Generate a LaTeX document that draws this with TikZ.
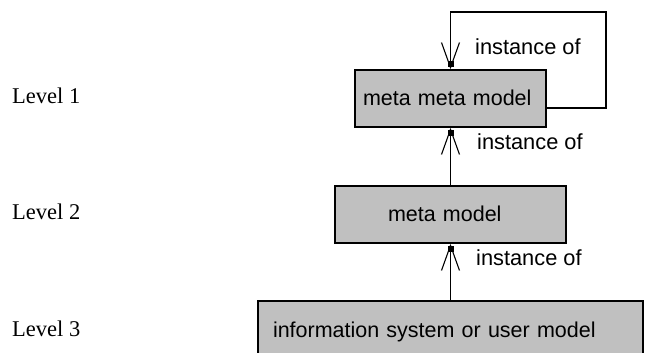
\documentclass[tikz,border=0pt]{standalone}
\usepackage{fontspec}
\setmainfont{Liberation Serif}
\setsansfont{Liberation Sans}
\usetikzlibrary{arrows.meta}
\definecolor{boxgray}{RGB}{192,192,192}
\tikzset{
  modelbox/.style={draw=black, fill=boxgray, line width=1.7pt,
    minimum height=57pt, align=left,
    font=\sffamily\fontsize{21.5pt}{24pt}\selectfont,
    text height=15.5pt, text depth=0.5pt, inner ysep=0pt},
  levellabel/.style={anchor=base west, inner sep=0pt,
    font=\fontsize{22.5pt}{26pt}\selectfont},
  instlabel/.style={anchor=west, inner sep=0pt,
    font=\sffamily\fontsize{21.8pt}{24pt}\selectfont},
  instof/.style={line width=1.7pt,
    -{Straight Barb[length=25pt,width=18pt,line width=1.1pt]}},
}
\begin{document}
\begin{tikzpicture}[x=1pt,y=-1pt]
  \useasboundingbox (0,0) rectangle (649,353);
  \clip (0,0) rectangle (649,353);

  % level captions
  \node[levellabel] (lev1) at (12,104) {Level 1};
  \node[levellabel] (lev2) at (12,219) {Level 2};
  \node[levellabel] (lev3) at (12,336) {Level 3};

  % model boxes
  \node[modelbox, inner xsep=8pt, text width=175pt] (mmm) at (450.5,98.5) {meta meta model};
  \node[modelbox, inner xsep=53pt, text width=125pt] (mm) at (450.5,214.5) {meta model};
  \node[modelbox, inner xsep=15pt, text width=355pt] (ism) at (450.5,329.5) {information system or user model};

  % self loop of the top level
  \coordinate (loopstart) at ([yshift=-9.5pt]mmm.east);
  \coordinate (loopcorner) at (606,12);
  \draw[instof] (loopstart) -| (loopcorner) -| (mmm.north);
  \fill ([xshift=-3pt,yshift=2pt]mmm.north) rectangle ++(6,-6);

  % instance-of relations between levels
  \draw[instof] (mm.north) -- (mmm.south);
  \fill ([xshift=-3pt,yshift=-2pt]mmm.south) rectangle ++(6,6);
  \draw[instof] (ism.north) -- (mm.south);
  \fill ([xshift=-3pt,yshift=-2pt]mm.south) rectangle ++(6,6);

  % relation labels
  \node[instlabel] (inst1) at (475,47) {instance of};
  \node[instlabel] (inst2) at (477,142) {instance of};
  \node[instlabel] (inst3) at (476,258) {instance of};
\end{tikzpicture}
\end{document}
